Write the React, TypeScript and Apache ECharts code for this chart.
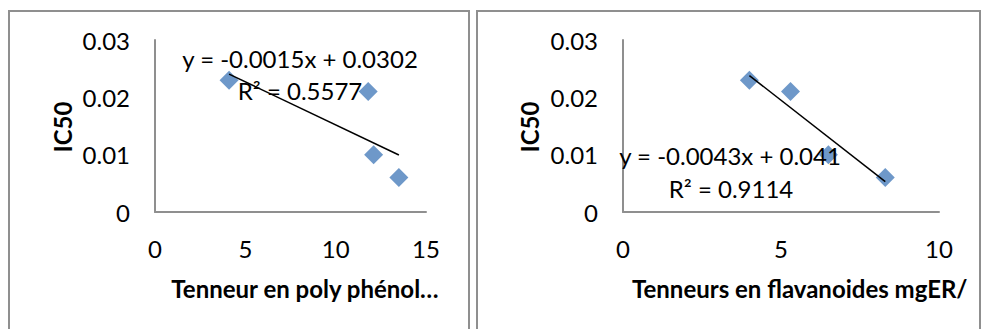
import React, { useEffect, useRef } from "react";
import * as echarts from "echarts";

// Left chart: polyphenol content vs IC50
const polyX = [4.1, 11.8, 12.1, 13.5];
const polyY = [0.023, 0.021, 0.01, 0.006];
const polyTrend = { slope: -0.0015, intercept: 0.0302 };
const polyEq = "y = -0.0015x + 0.0302";
const polyR2 = "R² = 0.5577";
const polyXTitle = "Tenneur en poly phénol…";

// Right chart: flavonoid content vs IC50
const flavX = [4.0, 5.3, 6.5, 8.3];
const flavY = [0.023, 0.021, 0.01, 0.006];
const flavTrend = { slope: -0.0043, intercept: 0.041 };
const flavEq = "y = -0.0043x + 0.041";
const flavR2 = "R² = 0.9114";
const flavXTitle = "Tenneurs en flavanoides mgER/";

const yTitle = "IC50";
const yTicks = [0, 0.01, 0.02, 0.03];

const FONT = "Lato, 'Open Sans', sans-serif";
const BLUE = "#4a7ebb";
const AXIS = "#8f8f8f";
const FS = 24;

function trendPoints(xs: number[], t: { slope: number; intercept: number }) {
  const lo = Math.min(...xs);
  const hi = Math.max(...xs);
  return [
    [lo, t.slope * lo + t.intercept],
    [hi, t.slope * hi + t.intercept],
  ];
}

export default function App() {
  const ref = useRef<HTMLDivElement>(null);
  useEffect(() => {
    if (!ref.current) return;
    const chart = echarts.init(ref.current, undefined, { renderer: "svg" });
    const axisLabel = { color: "#000", fontFamily: FONT, fontSize: FS };
    const xAxisBase = (max: number) => ({
      type: "value" as const,
      min: 0,
      max,
      interval: 5,
      axisLine: { show: true, onZero: false, lineStyle: { color: AXIS, width: 2 } },
      axisTick: { show: false },
      splitLine: { show: false },
      axisLabel: { ...axisLabel, margin: 24 },
    });
    const yAxisBase = () => ({
      type: "value" as const,
      min: yTicks[0],
      max: yTicks[yTicks.length - 1],
      interval: 0.01,
      axisLine: { show: true, lineStyle: { color: AXIS, width: 2 } },
      axisTick: { show: false },
      splitLine: { show: false },
      axisLabel: { ...axisLabel, margin: 25, formatter: (v: number) => (v === 0 ? "0" : String(+v.toFixed(2))) },
    });
    const txt = (text: string, x: number, y: number, opts: any = {}) => ({
      type: "text",
      x,
      y,
      rotation: opts.rotation || 0,
      z: 100,
      style: {
        text,
        fill: "#000",
        font: `${opts.bold ? "bold " : ""}${FS}px ${FONT}`,
        textAlign: opts.align || "center",
        textVerticalAlign: "middle",
      },
    });
    chart.setOption({
      animation: false,
      backgroundColor: "#fff",
      grid: [
        { left: 155, top: 40, width: 271, height: 172 },
        { left: 623, top: 40, width: 316, height: 172 },
      ],
      xAxis: [
        { ...xAxisBase(15), gridIndex: 0 },
        { ...xAxisBase(10), gridIndex: 1 },
      ],
      yAxis: [
        { ...yAxisBase(), gridIndex: 0 },
        { ...yAxisBase(), gridIndex: 1 },
      ],
      series: [
        {
          type: "scatter",
          xAxisIndex: 0,
          yAxisIndex: 0,
          symbol: "diamond",
          symbolSize: 19,
          itemStyle: { color: BLUE },
          data: polyX.map((x, i) => [x, polyY[i]]),
          z: 2,
        },
        {
          type: "line",
          xAxisIndex: 0,
          yAxisIndex: 0,
          showSymbol: false,
          symbol: "none",
          lineStyle: { color: "#000", width: 1.5 },
          data: trendPoints(polyX, polyTrend),
          z: 3,
        },
        {
          type: "scatter",
          xAxisIndex: 1,
          yAxisIndex: 1,
          symbol: "diamond",
          symbolSize: 19,
          itemStyle: { color: BLUE },
          data: flavX.map((x, i) => [x, flavY[i]]),
          z: 2,
        },
        {
          type: "line",
          xAxisIndex: 1,
          yAxisIndex: 1,
          showSymbol: false,
          symbol: "none",
          lineStyle: { color: "#000", width: 1.5 },
          data: trendPoints(flavX, flavTrend),
          z: 3,
        },
      ],
      graphic: [
        {
          type: "rect",
          shape: { x: 9, y: 11, width: 460, height: 340 },
          style: { fill: "none", stroke: "#8f8f8f", lineWidth: 2 },
          silent: true,
        },
        {
          type: "rect",
          shape: { x: 477, y: 11, width: 503, height: 340 },
          style: { fill: "none", stroke: "#8f8f8f", lineWidth: 2 },
          silent: true,
        },
        txt(yTitle, 62, 127, { bold: true, rotation: Math.PI / 2 }),
        txt(yTitle, 529, 127, { bold: true, rotation: Math.PI / 2 }),
        txt(polyXTitle, 305, 288, { bold: true }),
        txt(flavXTitle, 632, 288, { bold: true, align: "left" }),
        txt(polyEq, 300, 58),
        txt(polyR2, 300, 90),
        txt(flavEq, 730, 155),
        txt(flavR2, 731, 188),
      ],
    });
    return () => chart.dispose();
  }, []);
  return (
    <div
      ref={ref}
      style={{ position: "fixed", left: 0, top: 0, width: 981, height: 329 }}
    />
  );
}
